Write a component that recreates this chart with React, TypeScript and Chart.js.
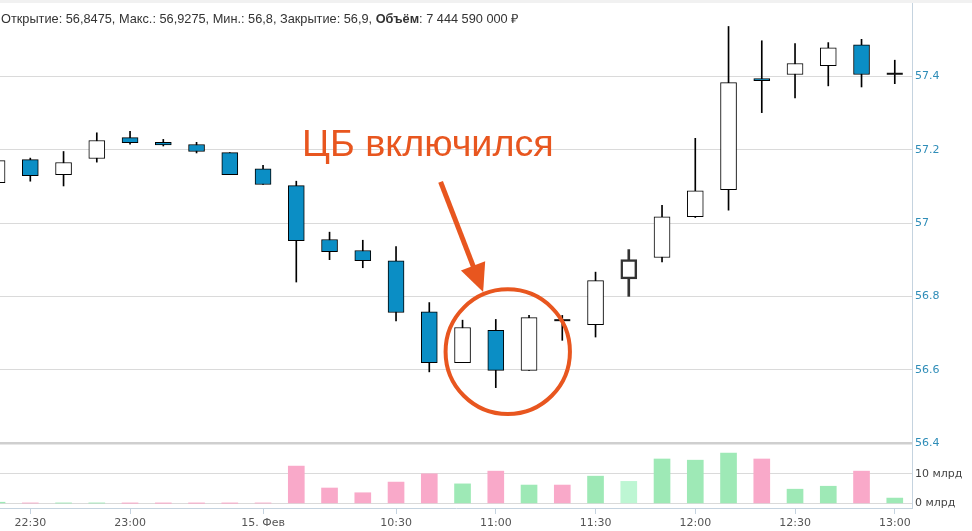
import React, { useEffect, useRef } from 'react';
import { Chart, registerables } from 'chart.js';

Chart.register(...registerables);

// ---- data (10-minute candles, USD/RUB style quotes) ----
const timeLabels = ['22:30', '23:00', '15. Фев', '10:30', '11:00', '11:30', '12:00', '12:30', '13:00'];
const timeTickIndex = [1, 4, 8, 12, 15, 18, 21, 24, 27];

const opens = [
  57.110, 57.173, 57.132, 57.176, 57.233, 57.220, 57.214, 57.192, 57.148, 57.102,
  56.955, 56.925, 56.897, 56.758, 56.619, 56.707, 56.598, 56.736, 56.723, 56.8475,
  56.906, 57.017, 57.091, 57.394, 57.405, 57.429, 57.486, 57.406,
];
const highs = [
  57.180, 57.177, 57.195, 57.246, 57.250, 57.228, 57.220, 57.192, 57.157, 57.114,
  56.975, 56.953, 56.936, 56.783, 56.735, 56.737, 56.748, 56.748, 56.866, 56.9275,
  57.048, 57.231, 57.536, 57.497, 57.489, 57.492, 57.501, 57.444,
];
const lows = [
  57.100, 57.114, 57.101, 57.166, 57.215, 57.210, 57.191, 57.132, 57.105, 56.839,
  56.900, 56.878, 56.733, 56.594, 56.619, 56.551, 56.598, 56.680, 56.689, 56.8,
  56.894, 57.015, 57.035, 57.301, 57.341, 57.374, 57.371, 57.380,
];
const closes = [
  57.170, 57.129, 57.165, 57.225, 57.219, 57.213, 57.195, 57.132, 57.105, 56.952,
  56.922, 56.897, 56.756, 56.619, 56.715, 56.598, 56.742, 56.735, 56.843, 56.9,
  57.017, 57.088, 57.383, 57.388, 57.435, 57.478, 57.405, 57.407,
];
// turnover, billions RUB
const volumes = [
  0.4, 0.1, 0.1, 0.1, 0.03, 0.03, 0.03, 0.03, 0.1, 12.6,
  5.2, 3.6, 7.2, 10.0, 6.6, 10.9, 6.2, 6.2, 9.2, 7.44,
  15.0, 14.6, 17.0, 15.0, 4.8, 5.8, 10.9, 1.8,
];
const priceTicks = [56.4, 56.6, 56.8, 57, 57.2, 57.4];
const volumeTicks = [0, 10];
const HOVER_INDEX = 19;

// annotation anchored in data coordinates (candle index, price)
const noteCircleCenter = [15.36, 56.649];
const noteCircleRadius = [1.87, 0.17];
const noteArrowFrom = [13.34, 57.112];
const noteArrowTo = [14.62, 56.812];

// ---- styles ----
const BLUE = '#0b8ec5';
const GREEN = '#9ee9b6';
const GREEN_HOVER = '#bdf6d3';
const PINK = '#f9a9c9';
const ORANGE = '#e8561f';
const GRID = '#dadada';
const AXIS = '#c5d3df';
const FONT = { family: '"DejaVu Sans", Verdana, sans-serif', size: 11 };

const isDoji = (i: number) => Math.abs(closes[i] - opens[i]) < 0.003;
const idx = opens.map((_, i) => i);

const zeroPad = (scale: any) => {
  scale.paddingTop = 0;
  scale.paddingBottom = 0;
  scale.paddingLeft = 0;
  scale.paddingRight = 0;
};

const notePlugin = {
  id: 'cbNote',
  afterDatasetsDraw(chart: any) {
    const { ctx, scales } = chart;
    const x = scales.x;
    const y = scales.y;
    ctx.save();
    ctx.strokeStyle = ORANGE;
    ctx.fillStyle = ORANGE;
    // circle
    const cx = x.getPixelForValue(noteCircleCenter[0]);
    const cy = y.getPixelForValue(noteCircleCenter[1]);
    const rx = Math.abs(x.getPixelForValue(noteCircleCenter[0] + noteCircleRadius[0]) - cx);
    const ry = Math.abs(y.getPixelForValue(noteCircleCenter[1] + noteCircleRadius[1]) - cy);
    ctx.lineWidth = 4;
    ctx.beginPath();
    ctx.ellipse(cx, cy, rx, ry, 0, 0, Math.PI * 2);
    ctx.stroke();
    // arrow
    const x1 = x.getPixelForValue(noteArrowFrom[0]);
    const y1 = y.getPixelForValue(noteArrowFrom[1]);
    const x2 = x.getPixelForValue(noteArrowTo[0]);
    const y2 = y.getPixelForValue(noteArrowTo[1]);
    const len = Math.hypot(x2 - x1, y2 - y1);
    const ux = (x2 - x1) / len;
    const uy = (y2 - y1) / len;
    const headLen = 28;
    const headHalf = 13;
    const bx = x2 - ux * headLen;
    const by = y2 - uy * headLen;
    ctx.lineWidth = 5;
    ctx.beginPath();
    ctx.moveTo(x1, y1);
    ctx.lineTo(bx + ux * 2, by + uy * 2);
    ctx.stroke();
    ctx.beginPath();
    ctx.moveTo(x2, y2);
    ctx.lineTo(bx - uy * headHalf, by + ux * headHalf);
    ctx.lineTo(bx + uy * headHalf, by - ux * headHalf);
    ctx.closePath();
    ctx.fill();
    ctx.restore();
  },
};

export default function App() {
  const ref = useRef<HTMLCanvasElement>(null);

  useEffect(() => {
    const bodyIdx = idx.filter((i) => !isDoji(i));
    const dojiIdx = idx.filter((i) => isDoji(i));
    const wickIdx = idx.filter((i) => i !== HOVER_INDEX);

    const chart = new Chart(ref.current as HTMLCanvasElement, {
      type: 'bar',
      data: {
        datasets: [
          {
            type: 'bar',
            label: 'body',
            order: 1,
            xAxisID: 'x',
            yAxisID: 'y',
            grouped: false,
            barThickness: 16,
            data: bodyIdx.map((i) => ({ x: i, y: [opens[i], closes[i]] })) as any,
            backgroundColor: bodyIdx.map((i) => (closes[i] >= opens[i] ? '#ffffff' : BLUE)),
            borderColor: bodyIdx.map((i) => (i === HOVER_INDEX ? '#333333' : '#000000')),
            borderWidth: bodyIdx.map((i) => (i === HOVER_INDEX ? 2.5 : 1)),
            borderSkipped: false,
          } as any,
          {
            type: 'scatter',
            label: 'doji',
            order: 0,
            xAxisID: 'x',
            yAxisID: 'y',
            data: dojiIdx.map((i) => ({ x: i, y: closes[i] })),
            pointStyle: 'line',
            pointRadius: 8,
            pointBorderWidth: 2,
            pointBorderColor: '#111111',
          } as any,
          {
            type: 'bar',
            label: 'wick',
            order: 3,
            xAxisID: 'x',
            yAxisID: 'y',
            grouped: false,
            barThickness: 1,
            data: wickIdx.map((i) => ({ x: i, y: [lows[i], highs[i]] })) as any,
            backgroundColor: '#000000',
            borderWidth: 0,
          } as any,
          {
            type: 'bar',
            label: 'wickHover',
            order: 3,
            xAxisID: 'x',
            yAxisID: 'y',
            grouped: false,
            barThickness: 2,
            data: [{ x: HOVER_INDEX, y: [lows[HOVER_INDEX], highs[HOVER_INDEX]] }] as any,
            backgroundColor: '#333333',
            borderWidth: 0,
          } as any,
          {
            type: 'bar',
            label: 'volume',
            order: 4,
            xAxisID: 'x',
            yAxisID: 'yv',
            grouped: false,
            barThickness: 16,
            data: idx.map((i) => ({ x: i, y: volumes[i] })) as any,
            backgroundColor: idx.map((i) =>
              i === HOVER_INDEX ? GREEN_HOVER : closes[i] >= opens[i] ? GREEN : PINK
            ),
            borderWidth: 0,
          } as any,
        ],
      },
      options: {
        animation: false,
        responsive: false,
        events: [],
        layout: { autoPadding: false, padding: { top: 3, left: 0, right: 0, bottom: 0 } },
        plugins: {
          legend: { display: false },
          tooltip: { enabled: false },
        },
        scales: {
          x: {
            type: 'linear',
            position: 'bottom',
            min: 0.0887,
            max: 27.518,
            offset: false,
            grid: {
              display: true,
              offset: false,
              drawOnChartArea: false,
              drawTicks: true,
              tickLength: 6,
              color: AXIS,
            },
            border: { display: true, color: AXIS },
            ticks: {
              autoSkip: false,
              maxRotation: 0,
              padding: 3,
              color: '#555555',
              font: FONT,
              callback: (_v: any, i: number) => timeLabels[i],
            },
            afterBuildTicks: (scale: any) => {
              scale.ticks = timeTickIndex.map((v) => ({ value: v }));
            },
            afterFit: (scale: any) => {
              scale.height = 23;
              zeroPad(scale);
            },
          },
          y: {
            type: 'linear',
            position: 'right',
            stack: 'panes',
            stackWeight: 440,
            min: 56.4,
            max: 57.6,
            grid: {
              drawTicks: false,
              color: (c: any) => (c.tick && Math.abs(c.tick.value - 56.4) < 1e-6 ? '#cfcfcf' : GRID),
              lineWidth: (c: any) => (c.tick && Math.abs(c.tick.value - 56.4) < 1e-6 ? 2.5 : 1),
            },
            border: { display: true, color: AXIS },
            ticks: {
              padding: 3,
              color: '#2f8db8',
              font: FONT,
              callback: (v: any) => String(Number(Number(v).toFixed(1))),
            },
            afterBuildTicks: (scale: any) => {
              scale.ticks = priceTicks.map((v) => ({ value: v }));
            },
            afterFit: (scale: any) => {
              scale.width = 60;
              zeroPad(scale);
            },
          },
          yv: {
            type: 'linear',
            position: 'right',
            stack: 'panes',
            stackWeight: 65,
            min: -1.55,
            max: 20.4,
            grid: { drawTicks: false, color: GRID },
            border: { display: true, color: AXIS },
            ticks: {
              padding: 3,
              color: '#444444',
              font: FONT,
              callback: (v: any) => `${v} млрд`,
            },
            afterBuildTicks: (scale: any) => {
              scale.ticks = volumeTicks.map((v) => ({ value: v }));
            },
            afterFit: (scale: any) => {
              scale.width = 60;
              zeroPad(scale);
            },
          },
        } as any,
      },
      plugins: [notePlugin],
    });
    return () => chart.destroy();
  }, []);

  return (
    <div
      style={{
        position: 'fixed',
        left: 0,
        top: 0,
        width: 972,
        height: 531,
        background: '#ffffff',
        overflow: 'hidden',
      }}
    >
      <div style={{ position: 'absolute', left: 0, top: 0, width: 972, height: 3, background: '#f1f1f1' }} />
      <canvas
        ref={ref}
        width={972}
        height={531}
        style={{ position: 'absolute', left: 0, top: 0, width: 972, height: 531 }}
      />
      <div
        style={{
          position: 'absolute',
          left: 1,
          top: 11,
          whiteSpace: 'nowrap',
          fontFamily: '"Liberation Sans", Arial, sans-serif',
          fontSize: 12.75,
          lineHeight: '16px',
          color: '#333333',
        }}
      >
        Открытие: 56,8475, Макс.: 56,9275, Мин.: 56,8, Закрытие: 56,9, <b>Объём</b>: 7 444 590 000 ₽
      </div>
      <div
        style={{
          position: 'absolute',
          left: 302,
          top: 124.75,
          whiteSpace: 'nowrap',
          fontFamily: '"Liberation Sans", Arial, sans-serif',
          fontSize: 37.75,
          lineHeight: '37.75px',
          color: ORANGE,
        }}
      >
        ЦБ включился
      </div>
    </div>
  );
}
